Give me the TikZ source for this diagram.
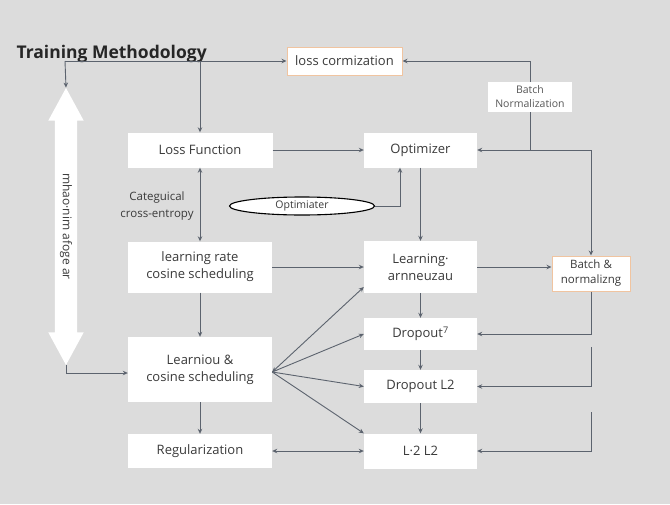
\documentclass[tikz,border=0pt]{standalone}
\usepackage{fontspec}
\setmainfont{Open Sans}
\usetikzlibrary{arrows.meta,shapes.geometric,shapes.arrows}
\definecolor{bgcol}{HTML}{DCDCDC}
\definecolor{wire}{HTML}{5C636E}
\definecolor{peach}{HTML}{F0C4A0}
\definecolor{ink}{HTML}{3A3A3A}
\begin{document}
\begin{tikzpicture}[x=1pt, y=-1pt, >={Stealth[length=5pt,width=4.5pt]},
  box/.style={fill=white, text=ink, align=center, inner sep=0pt, font=\fontsize{13}{17}\selectfont},
  peachbox/.style={box, draw=peach, line width=1pt},
  wired/.style={wire, line width=0.9pt}]
% ---------- canvas ----------
\fill[bgcol] (0,0) rectangle (670,504);
\useasboundingbox (0,0) rectangle (670,504);
\node[anchor=west, font=\fontsize{17.5}{20}\selectfont\bfseries, text=black!85] (title) at (13,54) {Training Methodology};
% ---------- left column ----------
\node[box, minimum width=145, minimum height=35] (lossfn) at (200,150) {Loss Function};
\node[box, minimum width=144, minimum height=51] (lrcos) at (200,267) {learning rate\\cosine scheduling};
\node[box, minimum width=144, minimum height=65] (learniou) at (200,369.5) {Learniou \&\\cosine scheduling};
\node[box, minimum width=144, minimum height=34] (reg) at (200,451) {Regularization};
\node[align=center, text=ink, font=\fontsize{11.5}{17}\selectfont] (catlab) at (157,206) {Categuical\\cross-entropy};
% ---------- right column ----------
\node[box, minimum width=113, minimum height=35] (optim) at (420.5,150) {Optimizer};
\node[box, minimum width=113, minimum height=52] (learnarn) at (420.5,267) {Learning·\\arnneuzau};
\node[box, minimum width=113, minimum height=32] (drop7) at (420.5,334) {Dropout\textsuperscript{7}};
\node[box, minimum width=113, minimum height=33] (dropl2) at (420.5,386.5) {Dropout L2};
\node[box, minimum width=113, minimum height=35] (l2l2) at (420.5,451) {L·2 L2};
% ---------- side boxes ----------
\node[peachbox, minimum width=115, minimum height=28] (lossnorm) at (344.5,61) {loss cormization};
\node[box, minimum width=84, minimum height=30, text=ink!85, font=\fontsize{10.5}{14}\selectfont] (bnorm) at (530,97) {Batch\\Normalization};
\node[peachbox, minimum width=78, minimum height=35, font=\fontsize{11.5}{15}\selectfont] (batchn) at (591,273.5) {Batch \&\\normalizng};
\node[ellipse, draw=black, line width=1.1pt, fill=white, text=ink, inner sep=0pt, minimum width=145, minimum height=18, font=\fontsize{10.5}{12}\selectfont] (optimt) at (302,206) {Optimiater};
% ---------- big white arrow ----------
\node[double arrow, rotate=-90, fill=white, text=ink, inner xsep=0pt, inner ysep=5pt, minimum height=277, double arrow head extend=6.5pt, double arrow tip angle=57, font=\fontsize{12}{13}\selectfont] (span) at (66,226.5) {mhao·nim afoge ar};
% ---------- connectors ----------
\coordinate (t0) at (65,61);
\draw[wired, ->] (t0) -- (lossnorm.west);
\draw[wired, ->] (t0) -- (span.tip 2);
\draw[wired, ->] (lossfn.north |- t0) -- (lossfn.north);
\draw[wired, ->] (span.tip 1) |- ([yshift=-3.5pt]learniou.west);
\draw[wired, ->] (lossfn) -- (optim);
\draw[wired, <->] (lossfn) -- (lrcos);
\draw[wired, ->] (optimt.east) -| ([xshift=-20.5pt]optim.south);
\draw[wired, ->] (bnorm.north) |- (lossnorm.east);
\draw[wired, ->] (bnorm.south) |- (optim.east);
\draw[wired, ->] (bnorm.south |- optim.east) -| (batchn.north);
\draw[wired, ->] (optim) -- (learnarn);
\draw[wired, ->] (lrcos) -- (learnarn);
\draw[wired, ->] (learnarn) -- (learnarn -| batchn.west);
\draw[wired, ->] (lrcos) -- (learniou);
\draw[wired, ->] (learniou) -- (reg);
\draw[wired, ->] (learnarn) -- (drop7);
\draw[wired, ->] (drop7) -- (dropl2);
\draw[wired, ->] (dropl2) -- (l2l2);
\draw[wired, <->] (reg) -- (l2l2);
% fan out of Learniou
\coordinate (fan) at ([yshift=-2.5pt]learniou.east);
\coordinate (la) at ([yshift=-20pt]learnarn.west);
\draw[wired, <->] (fan) -- (la);
\foreach \t in {drop7.west, dropl2.west, l2l2.north west}
  \draw[wired, ->] (fan) -- (\t);
% right-hand returns
\draw[wired, ->] (batchn.south) |- (drop7.east);
\coordinate (f1) at (591,347);
\coordinate (f2) at (591,412);
\draw[wired, ->] (f1) |- (dropl2.east);
\draw[wired, ->] (f2) |- (l2l2.east);
\end{tikzpicture}
\end{document}
